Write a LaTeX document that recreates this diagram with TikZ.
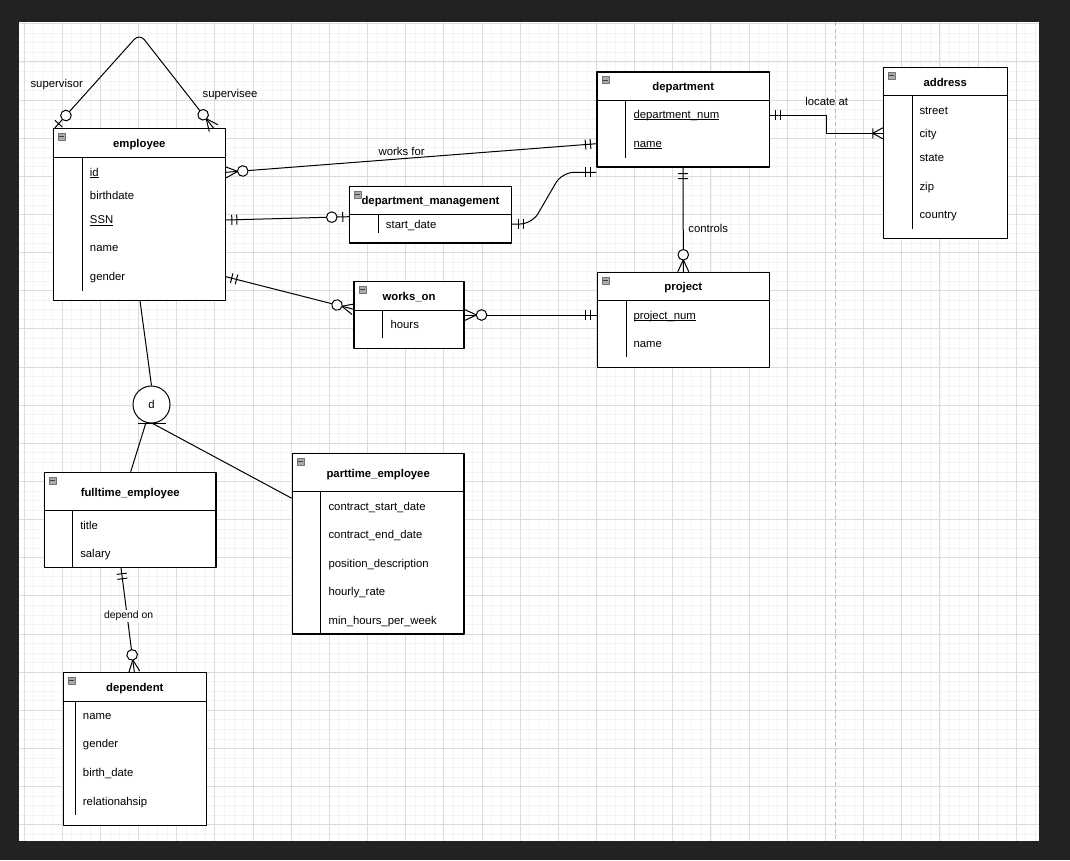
\documentclass[tikz,border=0pt]{standalone}
\usepackage{fontspec}
\setmainfont{Liberation Sans}
\usetikzlibrary{fit,calc}
\definecolor{bgdark}{HTML}{222222}
\definecolor{gridminor}{HTML}{F4F4F4}
\definecolor{gridmajor}{HTML}{DCDCDC}
\definecolor{pagebreak}{HTML}{BBBBBB}
\definecolor{iconfill}{HTML}{A8AAB4}
\newcommand\fs{\fontsize{8.5pt}{10pt}\selectfont}
\newcommand\ulin[1]{\setbox0=\hbox{#1}\rlap{\rule[-1.1pt]{\wd0}{0.55pt}}\box0}
\tikzset{
  entity/.style={draw=black, line width=0.8pt, fill=white, inner sep=0pt},
  sep/.style={draw=black, line width=0.75pt},
  etitle/.style={font=\fs\bfseries, anchor=base, inner sep=0pt},
  attr/.style={font=\fs, anchor=base west, inner sep=0pt},
  lbl/.style={font=\fs, inner sep=1pt},
  smalllbl/.style={font=\fontsize{7.8pt}{9pt}\selectfont, fill=white, inner sep=1pt},
  conn/.style={draw=black, line width=0.75pt},
  pics/mandone/.style={code={\draw[conn] (6,-5)--(6,5) (11,-5)--(11,5);}},
  pics/zeroone/.style={code={\draw[conn] (6,-5)--(6,5); \draw[conn, fill=white] (17,0) circle[radius=5.3];}},
  pics/zeromany/.style={code={\draw[conn] (0,-5.5)--(12,0)--(0,5.5); \draw[conn, fill=white] (17,0) circle[radius=5.3];}},
  pics/onemany/.style={code={\draw[conn] (0,-5.5)--(10,0)--(0,5.5) (10,-5)--(10,5);}},
}
\newcommand\ermark[3]{\path let \p1=(#1), \p2=(#2), \n1={atan2(\y2-\y1,\x2-\x1)} in (\p1) pic[rotate=\n1] {#3};}
\newcommand\ericon[1]{\draw[fill=iconfill, draw=black!55, line width=0.4pt] ($(#1.north west)+(5.5,5)$) rectangle ++(7,7); \draw[black!75, line width=0.6pt] ($(#1.north west)+(6.5,8.5)$) -- ++(5,0);}
\begin{document}
\begin{tikzpicture}[x=0.75pt,y=-0.75pt, line join=round]
\useasboundingbox (0,0) rectangle (1070,860);
\fill[bgdark] (0,0) rectangle (1070,860);
\fill[white] (19,22) rectangle (1039,841);
% grid
\foreach \i in {0,...,106} \draw[gridminor, line width=0.5pt] ({24+\i*9.54},22) -- ({24+\i*9.54},841);
\foreach \j in {0,...,85} \draw[gridminor, line width=0.5pt] (19,{23.7+\j*9.535}) -- (1039,{23.7+\j*9.535});
\foreach \i in {0,...,26} \draw[gridmajor, line width=0.6pt] ({24+\i*38.16},22) -- ({24+\i*38.16},841);
\foreach \j in {0,...,21} \draw[gridmajor, line width=0.6pt] (19,{23.7+\j*38.14}) -- (1039,{23.7+\j*38.14});
\draw[pagebreak, dash pattern=on 3pt off 2pt, line width=0.75pt] (835.4,22) -- (835.4,841);

% employee
\node[entity, fit={(53.3,128.7) (225.3,300.3)}] (employee) {};
\draw[sep] (53.3,157) -- (225.3,157);
\draw[sep] (82.3,157) -- (82.3,290.7);
\ericon{employee}
\node[etitle] (emp-t) at (139.3,147.5) {employee};
\node[attr] (emp-id) at (89.7,176) {\ulin{id}};
\node[attr] (emp-bd) at (89.7,199.8) {birthdate};
\node[attr] (emp-ssn) at (89.7,223.8) {\ulin{SSN}};
\node[attr] (emp-nm) at (89.7,251.8) {name};
\node[attr] (emp-gd) at (89.7,280.5) {gender};

% department
\node[entity, fit={(597,72) (769.3,167)}] (department) {};
\draw[sep] (597,100.3) -- (769.3,100.3);
\draw[sep] (625.7,100.3) -- (625.7,157.7);
\ericon{department}
\node[etitle] (dep-t) at (683.2,90) {department};
\node[attr] (dep-num) at (633.3,118.5) {\ulin{department\_num}};
\node[attr] (dep-nm) at (633.3,147.5) {\ulin{name}};

% address
\node[entity, fit={(883.3,67.3) (1007.3,238.3)}] (address) {};
\draw[sep] (883.3,95.3) -- (1007.3,95.3);
\draw[sep] (912,95.3) -- (912,229);
\ericon{address}
\node[etitle] (adr-t) at (945.3,86.3) {address};
\node[attr] (adr-st) at (919.3,114.5) {street};
\node[attr] (adr-ci) at (919.3,137.5) {city};
\node[attr] (adr-sa) at (919.3,161.8) {state};
\node[attr] (adr-zp) at (919.3,190.5) {zip};
\node[attr] (adr-co) at (919.3,218.8) {country};

% department_management
\node[entity, fit={(349.3,186.7) (511.7,243)}] (dm) {};
\draw[sep] (349.3,214.7) -- (511.7,214.7);
\draw[sep] (378.3,214.7) -- (378.3,233.3);
\node[etitle] (dm-t) at (430.5,204.5) {department\_management};
\ericon{dm}
\node[attr] (dm-sd) at (385.7,228.8) {start\_date};

% works_on
\node[entity, fit={(354,281.7) (464,348.3)}] (workson) {};
\draw[sep] (354,310.3) -- (464,310.3);
\draw[sep] (382.7,310.3) -- (382.7,338.3);
\ericon{workson}
\node[etitle] (wo-t) at (409,300) {works\_on};
\node[attr] (wo-h) at (390.3,328.8) {hours};

% project
\node[entity, fit={(597.3,272.3) (769.3,367.3)}] (project) {};
\draw[sep] (597.3,300.3) -- (769.3,300.3);
\draw[sep] (626,300.3) -- (626,357.3);
\ericon{project}
\node[etitle] (prj-t) at (683.3,290) {project};
\node[attr] (prj-num) at (633.3,319.3) {\ulin{project\_num}};
\node[attr] (prj-nm) at (633.3,347.5) {name};

% fulltime_employee
\node[entity, fit={(44.3,472.3) (216,567.3)}] (fulltime) {};
\draw[sep] (44.3,510.3) -- (216,510.3);
\draw[sep] (72.7,510.3) -- (72.7,567.3);
\ericon{fulltime}
\node[etitle] (ft-t) at (130.2,496) {fulltime\_employee};
\node[attr] (ft-ti) at (80,529) {title};
\node[attr] (ft-sa) at (80,557.5) {salary};

% parttime_employee
\node[entity, fit={(292.3,453.3) (464,634)}] (parttime) {};
\draw[sep] (292.3,491.3) -- (464,491.3);
\draw[sep] (320.7,491.3) -- (320.7,634);
\ericon{parttime}
\node[etitle] (pt-t) at (378.2,477) {parttime\_employee};
\node[attr] (pt-a1) at (328.3,510.2) {contract\_start\_date};
\node[attr] (pt-a2) at (328.3,538.5) {contract\_end\_date};
\node[attr] (pt-a3) at (328.3,567.2) {position\_description};
\node[attr] (pt-a4) at (328.3,595.8) {hourly\_rate};
\node[attr] (pt-a5) at (328.3,624.5) {min\_hours\_per\_week};

% dependent
\node[entity, fit={(63.3,672.3) (206.3,825.3)}] (dependent) {};
\draw[sep] (63.3,701.3) -- (206.3,701.3);
\draw[sep] (75.3,701.3) -- (75.3,815.3);
\ericon{dependent}
\node[etitle] (dp-t) at (134.8,691) {dependent};
\node[attr] (dp-a1) at (82.7,719.5) {name};
\node[attr] (dp-a2) at (82.7,747.5) {gender};
\node[attr] (dp-a3) at (82.7,776.8) {birth\_date};
\node[attr] (dp-a4) at (82.7,805) {relationahsip};

% disjoint circle
\node[draw=black, line width=0.75pt, circle, minimum size=37*0.75pt, inner sep=0pt, fill=white, font=\fs] (disj) at (151.5,404.5) {d};

% connectors
% supervision loop
\draw[conn, rounded corners=6pt] (employee.north -| 54.6,0) -- (139.5,33.5) -- (employee.north -| 213.6,0);
\ermark{employee.north -| 54.6,0}{139.5,33.5}{zeroone}
\ermark{employee.north -| 213.6,0}{139.5,33.5}{zeromany}
\node[lbl] (l-sup) at (56.7,84.3) {supervisor};
\node[lbl] (l-see) at (230,94.3) {supervisee};

% works for
\draw[conn] (employee.east |- 0,172.3) -- (department.west |- 0,143.7);
\ermark{employee.east |- 0,172.3}{department.west |- 0,143.7}{zeromany}
\ermark{department.west |- 0,143.7}{employee.east |- 0,172.3}{mandone}
\node[lbl] (l-wf) at (401.7,151.7) {works for};

% management
\draw[conn] (employee.east |- 0,220) -- (dm.west |- 0,216.7);
\ermark{employee.east |- 0,220}{dm.west |- 0,216.7}{mandone}
\ermark{dm.west |- 0,216.7}{employee.east |- 0,220}{zeroone}
\draw[conn, rounded corners=9pt] (dm.east |- 0,224) -- (532,224) -- (562,172.3) -- (department.west |- 0,172.3);
\ermark{dm.east |- 0,224}{532,224}{mandone}
\ermark{department.west |- 0,172.3}{562,172.3}{mandone}

% works on
\draw[conn] (employee.east |- 0,276.7) -- (workson.west |- 0,309.2);
\ermark{employee.east |- 0,276.7}{workson.west |- 0,309.2}{mandone}
\ermark{workson.west |- 0,309.2}{employee.east |- 0,276.7}{zeromany}
\draw[conn] (workson.east |- 0,315) -- (project.west |- 0,315);
\ermark{workson.east |- 0,315}{project.west |- 0,315}{zeromany}
\ermark{project.west |- 0,315}{workson.east |- 0,315}{mandone}

% controls
\draw[conn] (department.south) -- (project.north);
\ermark{department.south}{project.north}{mandone}
\ermark{project.north}{department.south}{zeromany}
\node[lbl] (l-ct) at (708.3,228.3) {controls};

% locate at
\draw[conn] (department.east |- 0,115) -| (826,133.3) -- (address.west |- 0,133.3);
\ermark{department.east |- 0,115}{826,115}{mandone}
\ermark{address.west |- 0,133.3}{826,133.3}{onemany}
\node[lbl] (l-la) at (826.7,101.3) {locate at};

% specialization
\draw[conn] (employee.south -| 140,0) -- (disj.north);
\draw[conn] (disj.south -| 137.5,0) -- (disj.south -| 166,0);
\draw[conn] (disj.south -| 145.7,0) -- (fulltime.north -| 130.7,0);
\draw[conn] (disj.south -| 152.7,0) -- (parttime.west |- 0,498.3);

% depend on
\draw[conn] (fulltime.south -| 121,0) -- (dependent.north -| 134.3,0);
\ermark{fulltime.south -| 121,0}{dependent.north -| 134.3,0}{mandone}
\ermark{dependent.north -| 134.3,0}{fulltime.south -| 121,0}{zeromany}
\node[smalllbl] (l-dep) at (128.6,615.7) {depend on};
\end{tikzpicture}
\end{document}
